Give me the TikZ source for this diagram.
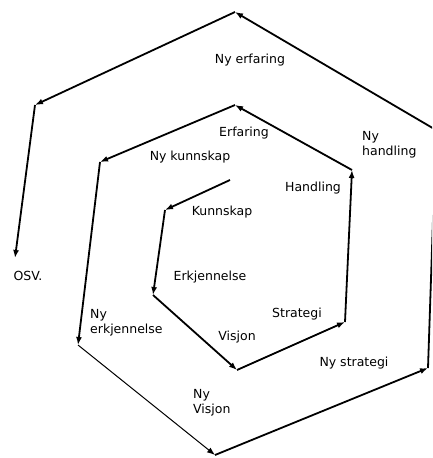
\documentclass[tikz,border=0pt]{standalone}
\usepackage{fontspec}
\setmainfont{DejaVu Sans}
\usepackage{tikz}
\usetikzlibrary{arrows.meta}
\tikzset{
    turn/.style={
        -{Latex[length=8pt,width=6pt]},
        line width=1.8pt
    },
    thinturn/.style={
        -{Latex[length=8pt,width=6pt]},
        line width=1pt
    },
    steplabel/.style={
        align=left,
        font=\fontsize{12.5}{15}\selectfont,
        inner sep=1pt
    }
}

\begin{document}
\begin{tikzpicture}[x=1pt,y=-1pt]
        \clip (0,0) rectangle (432,458);

        % spiral corners, inside out
        \coordinate (k0) at (230,180);
        \coordinate (k1) at (165,210);
        \coordinate (k2) at (153,295);
        \coordinate (k3) at (237,370);
        \coordinate (k4) at (345,322);
        \coordinate (k5) at (352,170);
        \coordinate (k6) at (235,105);
        \coordinate (k7) at (100,162);
        \coordinate (k8) at (78,345);
        \coordinate (k9) at (215,455);
        \coordinate (k10) at (428,368);
        \coordinate (k11) at (436,130);
        \coordinate (k12) at (235,12);
        \coordinate (k13) at (35,105);
        \coordinate (k14) at (15,258);

        \draw[turn] (k0) -- (k1);
        \draw[turn] (k1) -- (k2);
        \draw[turn] (k2) -- (k3);
        \draw[turn] (k3) -- (k4);
        \draw[turn] (k4) -- (k5);
        \draw[turn] (k5) -- (k6);
        \draw[turn] (k6) -- (k7);
        \draw[turn] (k7) -- (k8);
        \draw[thinturn] (k8) -- (k9);
        \draw[turn] (k9) -- (k10);
        \draw[turn] (k10) -- (k11);
        \draw[turn] (k11) -- (k12);
        \draw[turn] (k12) -- (k13);
        \draw[turn] (k13) -- (k14);

        \node[steplabel] (kunnskap) at (222,212) {Kunnskap};
        \node[steplabel] (erkjennelse) at (210,277) {Erkjennelse};
        \node[steplabel] (visjon) at (237,337) {Visjon};
        \node[steplabel] (strategi) at (297,314) {Strategi};
        \node[steplabel] (handling) at (313,188) {Handling};
        \node[steplabel] (erfaring) at (244,133) {Erfaring};
        \node[steplabel] (nykunnskap) at (190,157) {Ny kunnskap};
        \node[steplabel, anchor=north west] (nyerkjennelse) at (89,308) {Ny\\erkjennelse};
        \node[steplabel, anchor=north west] (nyvisjon) at (192,388) {Ny\\Visjon};
        \node[steplabel] (nystrategi) at (354,363) {Ny strategi};
        \node[steplabel, anchor=north west] (nyhandling) at (361,130) {Ny\\handling};
        \node[steplabel] (nyerfaring) at (250,60) {Ny erfaring};
        \node[steplabel] (osv) at (28,276) {OSV.};
    \end{tikzpicture}
\end{document}
